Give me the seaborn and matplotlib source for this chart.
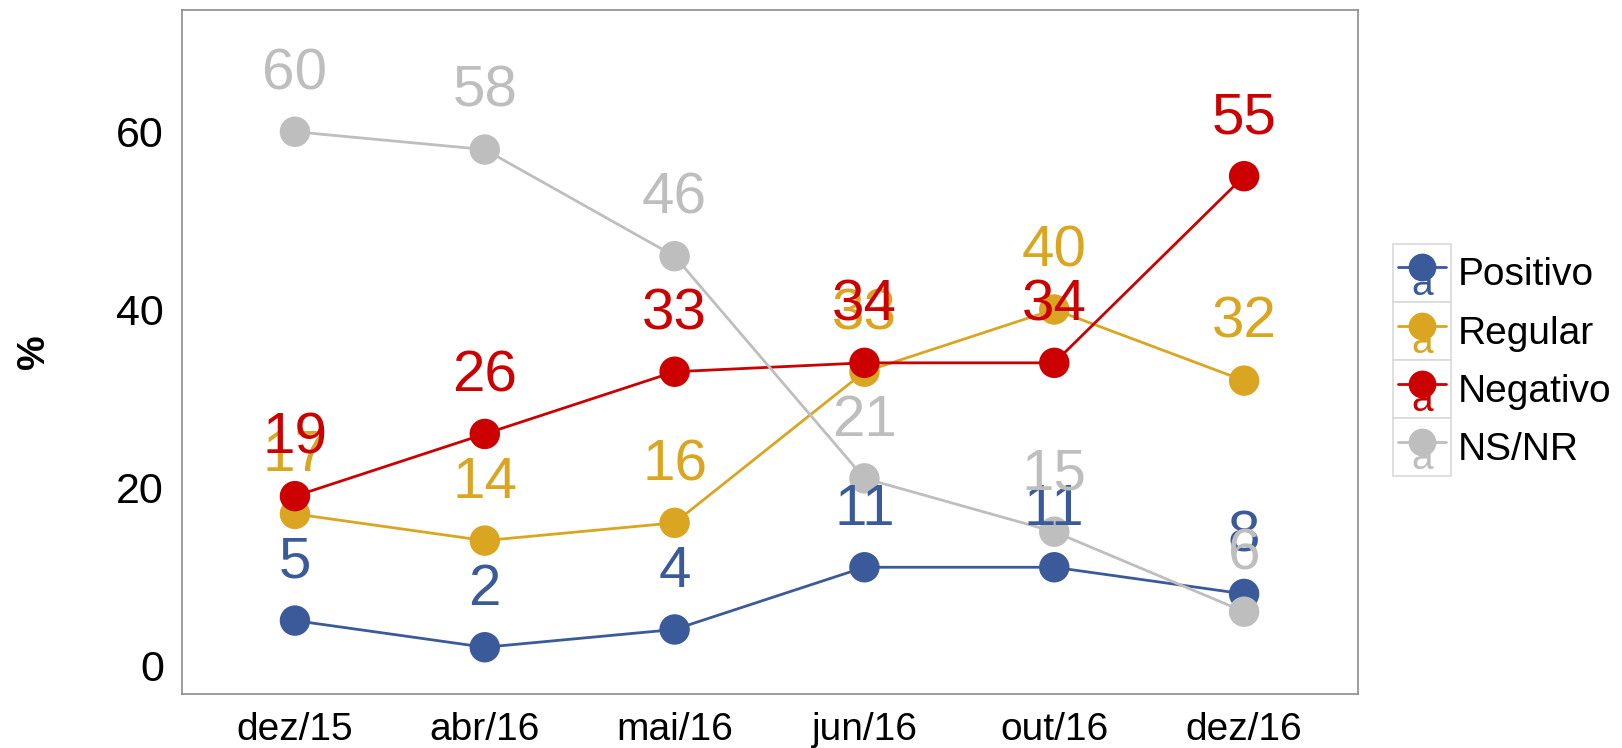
import numpy as np
import pandas as pd
import matplotlib
matplotlib.use('Agg')
import matplotlib.pyplot as plt
import seaborn as sns
from matplotlib.legend_handler import HandlerBase
from matplotlib.lines import Line2D
from matplotlib.patches import Rectangle
from matplotlib.text import Text

periods = ['dez/15', 'abr/16', 'mai/16', 'jun/16', 'out/16', 'dez/16']
series = ['Positivo', 'Regular', 'Negativo', 'NS/NR']
positivo = [5, 2, 4, 11, 11, 8]
regular = [17, 14, 16, 33, 40, 32]
negativo = [19, 26, 33, 34, 34, 55]
nsnr = [60, 58, 46, 21, 15, 6]
colors = ['#3B5A9A', '#DAA520', '#CC0000', '#BEBEBE']

df = pd.DataFrame({
    'periodo': periods * 4,
    'serie': np.repeat(series, len(periods)),
    'valor': positivo + regular + negativo + nsnr,
})
df['pos'] = df['periodo'].map({p: i for i, p in enumerate(periods)})
palette = dict(zip(series, colors))

sns.set_style('white')
plt.rcParams['font.family'] = ['Liberation Sans', 'DejaVu Sans']
plt.rcParams['text.color'] = 'black'
plt.rcParams['xtick.color'] = '#333333'
plt.rcParams['ytick.color'] = '#333333'
plt.rcParams['xtick.labelcolor'] = 'black'
plt.rcParams['ytick.labelcolor'] = 'black'
plt.rcParams['axes.labelcolor'] = 'black'


class KeyHandler(HandlerBase):
    def create_artists(self, legend, orig_handle, xdescent, ydescent,
                       width, height, fontsize, trans):
        c = orig_handle.get_color()
        x0, y0 = -xdescent, -ydescent
        cx, cy = x0 + width / 2, y0 + height / 2
        box = Rectangle((x0, y0), width, height, facecolor='white',
                        edgecolor='#d9d9d9', lw=1.2, transform=trans)
        line = Line2D([x0 + 0.08 * width, x0 + 0.92 * width], [cy + 4, cy + 4],
                      color=c, lw=2, transform=trans)
        dot = Line2D([cx], [cy + 4], marker='o', ms=20, color=c, mew=0,
                     transform=trans)
        txt = Text(cx, y0 + 0.12 * height, 'a', color=c, fontsize=28,
                   ha='center', va='baseline', transform=trans)
        return [box, line, txt, dot]


fig = plt.figure(figsize=(16.22, 7.48), dpi=100)
ax = fig.add_axes([182 / 1622, 1 - 694 / 748, 1176 / 1622, 684 / 748])

sns.lineplot(data=df, x='pos', y='valor', hue='serie', hue_order=series,
             palette=palette, lw=2, sort=False, ax=ax, legend=False)
sns.scatterplot(data=df, x='pos', y='valor', hue='serie', hue_order=series,
                palette=palette, s=480, linewidth=0, ax=ax, legend=False,
                zorder=3)

for s, c in zip(series, colors):
    sub = df[df['serie'] == s]
    for _, r in sub.iterrows():
        ax.text(r['pos'], r['valor'] + 4.8, f"{r['valor']}", color=c,
                fontsize=42, ha='center', va='baseline', zorder=4)

ax.set_xlim(-0.595, 5.6)
ax.set_ylim(-3.26, 73.7)
ax.set_xticks(range(len(periods)))
ax.set_xticklabels(periods)
ax.set_yticks([0, 20, 40, 60])
ax.tick_params(axis='x', labelsize=28, length=7, width=1, pad=6)
ax.tick_params(axis='y', labelsize=31, length=7, width=1, pad=6)
ax.set_xlabel('')
ax.set_ylabel('%', fontsize=28, fontweight='bold')
ax.yaxis.set_label_coords((52 - 182) / 1176, 0.5)
for sp in ax.spines.values():
    sp.set_color('#8c8c8c')
    sp.set_linewidth(1.2)

handles = [Line2D([0], [0], color=c) for c in colors]
fig.legend(handles, series, handler_map={Line2D: KeyHandler()},
           loc='upper left', bbox_to_anchor=(1393 / 1622, 1 - 244 / 748),
           frameon=False, fontsize=28, handlelength=1.49, handleheight=1.92,
           handletextpad=0.18, labelspacing=0, borderpad=0, borderaxespad=0)

fig.savefig('out.png', dpi=100)
